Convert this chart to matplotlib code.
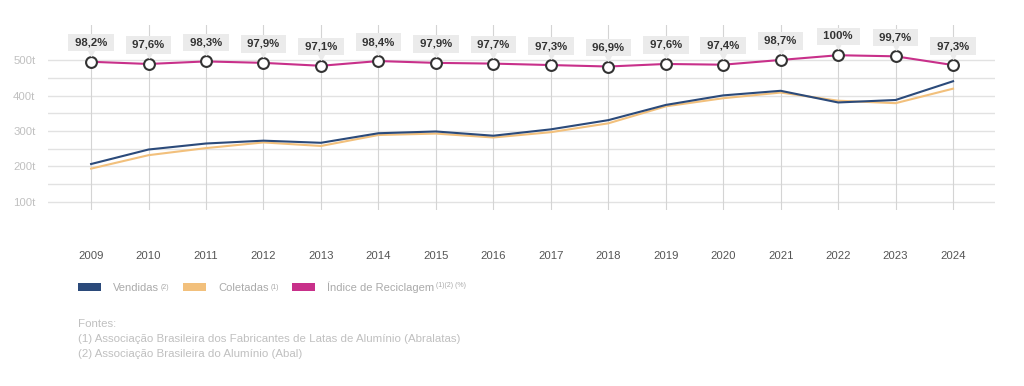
import matplotlib
matplotlib.use("Agg")
import matplotlib.pyplot as plt
import matplotlib.transforms as mtransforms
from matplotlib.patches import Patch

plt.rcParams['font.family'] = ['Liberation Sans', 'DejaVu Sans']

years = [2009, 2010, 2011, 2012, 2013, 2014, 2015, 2016, 2017, 2018,
         2019, 2020, 2021, 2022, 2023, 2024]
vendidas = [207, 248, 265, 273, 267, 294, 299, 287, 305, 331,
            374, 401, 414, 381, 388, 441]
coletadas = [194, 232, 252, 268, 258, 289, 293, 282, 297, 322,
             370, 393, 409, 386, 379, 420]
indice = [98.2, 97.6, 98.3, 97.9, 97.1, 98.4, 97.9, 97.7, 97.3, 96.9,
          97.6, 97.4, 98.7, 100.0, 99.7, 97.3]
indice_labels = ["98,2%", "97,6%", "98,3%", "97,9%", "97,1%", "98,4%", "97,9%",
                 "97,7%", "97,3%", "96,9%", "97,6%", "97,4%", "98,7%", "100%",
                 "99,7%", "97,3%"]
y_ticks = [100, 200, 300, 400, 500]
y_ticklabels = ["100t", "200t", "300t", "400t", "500t"]
legend_labels = ["Vendidas", "Coletadas", "Índice de Reciclagem"]
legend_sups = ["(2)", "(1)", "(1)(2) (%)"]
fontes = ["Fontes:",
          "(1) Associação Brasileira dos Fabricantes de Latas de Alumínio (Abralatas)",
          "(2) Associação Brasileira do Alumínio (Abal)"]

C_BLUE = "#2b4a7a"
C_ORANGE = "#f2c07c"
C_MAG = "#c8308a"

W, H = 1024, 386
fig = plt.figure(figsize=(W / 100, H / 100), dpi=100)
ax = fig.add_axes([48 / W, 1 - 210 / H, (995 - 48) / W, (210 - 25) / H])
ax.set_xlim(2008.25, 2024.73)
ax.set_ylim(77, 600)

for s in ax.spines.values():
    s.set_visible(False)

# horizontal grid (every 50t)
for v in range(100, 501, 50):
    ax.axhline(v, color="#e2e2e2", lw=1.0, zorder=0)
# vertical grid
for yr in years:
    ax.axvline(yr, color="#d4d4d4", lw=0.8, zorder=0)

ax.set_yticks(y_ticks)
ax.set_yticklabels(y_ticklabels)
ax.set_xticks(years)
ax.set_xticklabels([str(y) for y in years])
ax.tick_params(axis='y', length=0, pad=9, labelsize=8.2, labelcolor="#c0c0c0")
ax.tick_params(axis='x', length=0, pad=29.5, labelsize=8.2, labelcolor="#555555")

ax.plot(years, coletadas, color=C_ORANGE, lw=1.5, zorder=3)
ax.plot(years, vendidas, color=C_BLUE, lw=1.5, zorder=4)

ax2 = ax.twinx()
ax2.set_ylim(57.5, 108.3)
ax2.set_axis_off()
ax2.plot(years, indice, color=C_MAG, lw=1.5, zorder=5,
         marker="o", markersize=7.8, markerfacecolor="white",
         markeredgecolor="#333333", markeredgewidth=1.5)

tri_tr = mtransforms.offset_copy(ax2.transData, fig=fig, x=0, y=9, units='dots')
for x, v, lab in zip(years, indice, indice_labels):
    ax2.annotate(" " + lab + " ", xy=(x, v), xytext=(0, 19), textcoords='offset pixels',
                 ha='center', va='center', fontsize=8.2, fontweight='bold',
                 color="#333333", zorder=7,
                 bbox=dict(boxstyle='square,pad=0.32', fc="#ebebeb", ec='none'))
    ax2.plot([x], [v], marker='v', markersize=5, color="#ebebeb",
             transform=tri_tr, zorder=6, clip_on=False)

handles = [Patch(facecolor=C_BLUE), Patch(facecolor=C_ORANGE), Patch(facecolor=C_MAG)]
leg = fig.legend(handles, legend_labels, loc='center left',
                 bbox_to_anchor=(78 / W, 1 - 287 / H), ncol=3, frameon=False,
                 fontsize=8.0, handlelength=2.05, handleheight=0.8,
                 handletextpad=1.1, columnspacing=2.15, borderpad=0,
                 borderaxespad=0)
for t in leg.get_texts():
    t.set_color("#aaaaaa")

fig.canvas.draw()
for t, sup in zip(leg.get_texts(), legend_sups):
    bb = t.get_window_extent()
    fig.text((bb.x1 + 2) / W, (bb.y1 - 1) / H, sup, fontsize=5, color="#aaaaaa",
             ha='left', va='top')

for i, line in enumerate(fontes):
    fig.text(78 / W, 1 - (324 + 15 * i) / H, line, fontsize=8.25, color="#c0c0c0",
             ha='left', va='center')

fig.savefig("out.png", dpi=100)
